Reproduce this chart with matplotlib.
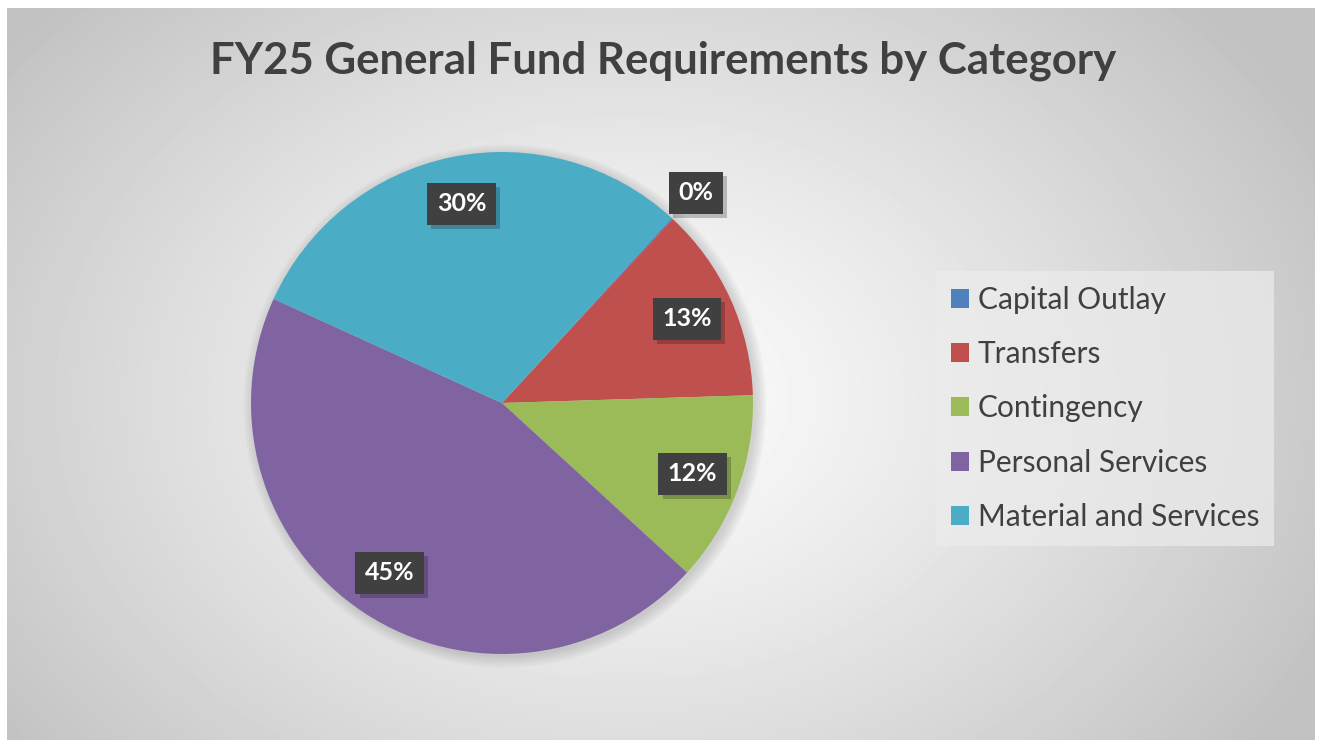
import numpy as np
import matplotlib.pyplot as plt
import matplotlib.patheffects as pe
from matplotlib.patches import Circle

# 데이터
categories = ['Capital Outlay', 'Transfers', 'Contingency', 'Personal Services', 'Material and Services']
shares = [0.1, 12.6, 12.3, 45.0, 30.0]
pct_labels = ['0%', '13%', '12%', '45%', '30%']
colors = ['#4F81BD', '#C0504D', '#9BBB59', '#8064A2', '#4BACC6']
title = 'FY25 General Fund Requirements by Category'

plt.rcParams['font.family'] = ['Lato', 'DejaVu Sans']
plt.rcParams['hatch.color'] = '#575757'
plt.rcParams['hatch.linewidth'] = 1.5

W, H = 1317, 740
fig = plt.figure(figsize=(W / 100, H / 100), dpi=100, facecolor='white')

# 배경 그라데이션
bg = fig.add_axes([7 / W, 0, (1315 - 7) / W, (740 - 8) / H])
yy, xx = np.mgrid[0:732, 0:1308]
d = np.sqrt(((xx - 620) / 700) ** 2 + ((yy - 390) / 520) ** 2)
shade = np.clip(253 - 52 * d ** 1.2, 194, 255) / 255
bg.imshow(shade, cmap='gray', vmin=0, vmax=1, aspect='auto', interpolation='bilinear')
bg.axis('off')

# 파이 차트
cx, cy, r = 502, 403, 251
ax = fig.add_axes([(cx - r) / W, (H - cy - r) / H, 2 * r / W, 2 * r / H])
# 부드러운 그림자
for k in range(8):
    ax.add_patch(Circle((0.012, -0.012), 1 + 0.006 * k, facecolor='#707070',
                        edgecolor='none', alpha=0.035, zorder=0, clip_on=False))
wedges, _ = ax.pie(shares, colors=colors, startangle=47.5, counterclock=False,
                   radius=1, wedgeprops=dict(linewidth=0))
ax.set_xlim(-1, 1)
ax.set_ylim(-1, 1)
ax.axis('off')

# 퍼센트 라벨
for w, lab in zip(wedges, pct_labels):
    mid = np.deg2rad((w.theta1 + w.theta2) / 2)
    dist = 1.14 if w.theta2 - w.theta1 < 5 else 0.81
    t = ax.text(dist * np.cos(mid), dist * np.sin(mid), lab, ha='center', va='center',
                fontsize=18, fontweight='bold', color='white', zorder=5,
                bbox=dict(boxstyle='square,pad=0.38', facecolor='#404040', edgecolor='none',
                          hatch='..'))
    t.get_bbox_patch().set_path_effects([
        pe.SimplePatchShadow(offset=(3, -3), shadow_rgbFace='#000000', alpha=0.22), pe.Normal()])

# 제목
fig.text(663 / W, 1 - 61 / H, title, ha='center', va='center', fontsize=31.5,
         fontweight='bold', color='#404040')

# 범례
leg = fig.legend(wedges, categories, loc='upper left', bbox_to_anchor=(936 / W, 1 - 271 / H),
                 fontsize=21.5, frameon=True, fancybox=False, facecolor='#ececec',
                 edgecolor='none', framealpha=0.7, handlelength=0.6, handleheight=0.6,
                 handletextpad=0.3, labelspacing=0.88, borderpad=0.5, borderaxespad=0)
for txt in leg.get_texts():
    txt.set_color('#404040')

fig.savefig('out.png', dpi=100, facecolor='white')
